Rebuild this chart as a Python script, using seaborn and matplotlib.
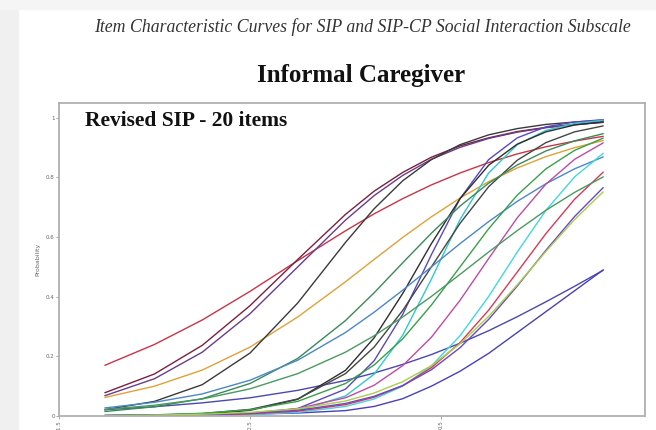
import matplotlib
matplotlib.use("Agg")
import matplotlib.pyplot as plt
from matplotlib.patches import Rectangle
import seaborn as sns
import pandas as pd

# ── Data ──────────────────────────────────────────────────────────────────────
THETA = [-1.26, -1.0, -0.75, -0.5, -0.25, 0.0, 0.15, 0.3, 0.45, 0.6, 0.75, 0.9, 1.05, 1.2, 1.35]

item_red      = [0.170, 0.240, 0.322, 0.418, 0.521, 0.621, 0.678, 0.729, 0.775, 0.815, 0.850, 0.879, 0.903, 0.922, 0.938]
item_maroon   = [0.078, 0.141, 0.237, 0.370, 0.525, 0.676, 0.754, 0.817, 0.868, 0.906, 0.933, 0.954, 0.968, 0.978, 0.985]
item_purple   = [0.068, 0.125, 0.214, 0.343, 0.500, 0.657, 0.739, 0.807, 0.861, 0.901, 0.931, 0.952, 0.967, 0.977, 0.985]
item_orange   = [0.062, 0.100, 0.154, 0.231, 0.332, 0.450, 0.525, 0.599, 0.668, 0.731, 0.786, 0.832, 0.870, 0.900, 0.924]
item_black_a  = [0.021, 0.049, 0.105, 0.211, 0.379, 0.582, 0.695, 0.789, 0.860, 0.910, 0.943, 0.964, 0.978, 0.986, 0.992]
item_blue_low = [0.021, 0.031, 0.044, 0.061, 0.086, 0.119, 0.144, 0.173, 0.206, 0.244, 0.286, 0.333, 0.383, 0.435, 0.489]
item_blue_bot = [0.002, 0.003, 0.004, 0.006, 0.010, 0.018, 0.032, 0.058, 0.100, 0.150, 0.210, 0.280, 0.350, 0.420, 0.490]
item_blue_b   = [0.000, 0.000, 0.002, 0.006, 0.025, 0.090, 0.185, 0.341, 0.541, 0.729, 0.860, 0.933, 0.970, 0.986, 0.994]
item_cyan_a   = [0.000, 0.000, 0.001, 0.005, 0.018, 0.067, 0.140, 0.271, 0.459, 0.659, 0.815, 0.910, 0.958, 0.981, 0.992]
item_black_b  = [0.001, 0.002, 0.006, 0.019, 0.056, 0.153, 0.262, 0.411, 0.578, 0.729, 0.841, 0.912, 0.953, 0.976, 0.987]
item_black_c  = [0.001, 0.003, 0.008, 0.022, 0.057, 0.142, 0.231, 0.354, 0.500, 0.646, 0.769, 0.858, 0.917, 0.953, 0.973]
item_green_a  = [0.015, 0.031, 0.058, 0.109, 0.193, 0.320, 0.413, 0.514, 0.613, 0.704, 0.781, 0.842, 0.889, 0.923, 0.947]
item_blue_sh  = [0.027, 0.046, 0.074, 0.120, 0.187, 0.280, 0.348, 0.422, 0.500, 0.578, 0.652, 0.720, 0.779, 0.829, 0.869]
item_green_b  = [0.002, 0.004, 0.009, 0.021, 0.049, 0.109, 0.171, 0.259, 0.372, 0.500, 0.628, 0.741, 0.829, 0.891, 0.932]
item_magenta  = [0.001, 0.001, 0.004, 0.010, 0.025, 0.061, 0.103, 0.169, 0.264, 0.388, 0.528, 0.665, 0.778, 0.861, 0.916]
item_cyan_b   = [0.000, 0.001, 0.002, 0.005, 0.012, 0.032, 0.057, 0.100, 0.168, 0.269, 0.401, 0.550, 0.690, 0.802, 0.881]
item_red_b    = [0.001, 0.001, 0.003, 0.007, 0.016, 0.038, 0.063, 0.102, 0.162, 0.246, 0.355, 0.483, 0.612, 0.727, 0.818]
item_green_c  = [0.022, 0.036, 0.057, 0.091, 0.142, 0.214, 0.269, 0.332, 0.401, 0.475, 0.550, 0.622, 0.690, 0.750, 0.802]
item_purple_c = [0.001, 0.002, 0.004, 0.009, 0.019, 0.042, 0.066, 0.102, 0.155, 0.229, 0.324, 0.436, 0.556, 0.669, 0.766]
item_yellowgr = [0.001, 0.003, 0.006, 0.012, 0.024, 0.050, 0.077, 0.115, 0.169, 0.242, 0.334, 0.440, 0.552, 0.659, 0.752]

ITEMS = {
    "red": (item_red, "#cc3347"),
    "maroon": (item_maroon, "#7a2040"),
    "purple": (item_purple, "#6a3c8c"),
    "orange": (item_orange, "#e0a238"),
    "black_a": (item_black_a, "#3a3a3a"),
    "blue_low": (item_blue_low, "#4a48b0"),
    "blue_bot": (item_blue_bot, "#4a40b8"),
    "blue_b": (item_blue_b, "#5a48c0"),
    "cyan_a": (item_cyan_a, "#30c8d0"),
    "black_b": (item_black_b, "#2e2e2e"),
    "black_c": (item_black_c, "#454545"),
    "green_a": (item_green_a, "#3a8a5a"),
    "blue_sh": (item_blue_sh, "#4a88c8"),
    "green_b": (item_green_b, "#38a048"),
    "magenta": (item_magenta, "#c04aa8"),
    "cyan_b": (item_cyan_b, "#40d8e0"),
    "red_b": (item_red_b, "#d83a58"),
    "green_c": (item_green_c, "#4a9a60"),
    "purple_c": (item_purple_c, "#6a48c8"),
    "yellowgr": (item_yellowgr, "#a8d048"),
}

Y_TICKS = [0, 0.2, 0.4, 0.6, 0.8, 1]
Y_TICKLABELS = ["0", "0.2", "0.4", "0.6", "0.8", "1"]
X_TICKS = [-1.5, -0.5, 0.5]
X_TICKLABELS = ["-1.5", "-0.5", "0.5"]

# ── Build long table ──────────────────────────────────────────────────────────
rows = []
for name, (vals, _) in ITEMS.items():
    for t, p in zip(THETA, vals):
        rows.append({"item": name, "theta": t, "prob": p})
df = pd.DataFrame(rows)
palette = {name: col for name, (_, col) in ITEMS.items()}

# ── Plot ──────────────────────────────────────────────────────────────────────
sns.set_style("white")
plt.rcParams["font.family"] = ["Liberation Serif", "DejaVu Serif"]

fig = plt.figure(figsize=(6.56, 4.30), dpi=100)
fig.patch.set_facecolor("white")
# page shadow at left and top
fig.patches.append(Rectangle((0, 0), 0.028, 1, transform=fig.transFigure,
                             color="#f0f0f0", zorder=0))
fig.patches.append(Rectangle((0, 0.978), 1, 0.022, transform=fig.transFigure,
                             color="#f5f5f5", zorder=0))

ax = fig.add_axes([0.090, 0.0326, 0.893, 0.728])
sns.lineplot(data=df, x="theta", y="prob", hue="item", palette=palette,
             legend=False, linewidth=1.0, ax=ax)

ax.set_xlim(-1.5, 1.568)
ax.set_ylim(0, 1.05)
ax.set_yticks(Y_TICKS)
ax.set_yticklabels(Y_TICKLABELS, fontsize=4, color="#666666", family="DejaVu Sans")
ax.set_xticks(X_TICKS)
ax.set_xticklabels(X_TICKLABELS, fontsize=4, color="#666666", rotation=90,
                   family="DejaVu Sans")
ax.tick_params(axis="both", length=2, width=0.6, color="#999999", pad=1,
               bottom=True, left=True)
ax.set_xlabel("")
ax.set_ylabel("Probability", fontsize=4.5, color="#666666", family="DejaVu Sans",
              labelpad=4)
for s in ax.spines.values():
    s.set_color("#b0b0b0")
    s.set_linewidth(1.3)

ax.text(0.045, 0.975, "Revised SIP - 20 items", transform=ax.transAxes,
        fontsize=15.5, fontweight="bold", va="top", ha="left", color="#111111")

fig.text(0.552, 0.937, "Item Characteristic Curves for SIP and SIP-CP Social Interaction Subscale",
         fontsize=12.8, style="italic", ha="center", va="center", color="#333333")
fig.text(0.550, 0.824, "Informal Caregiver", fontsize=18, fontweight="bold",
         ha="center", va="center", color="#111111")

fig.savefig("out.png", dpi=100)
plt.close(fig)
